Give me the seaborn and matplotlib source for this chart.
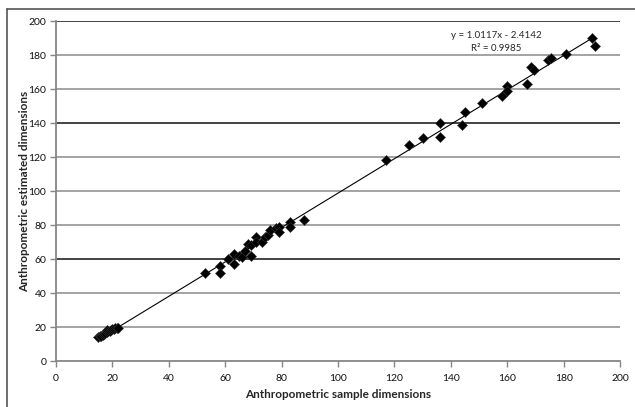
import numpy as np
import pandas as pd
import seaborn as sns
import matplotlib.pyplot as plt
from matplotlib.lines import Line2D

# sample (x) vs estimated (y) dimensions
sample_dims = [15, 15.5, 16, 16.5, 17, 17.5, 18, 18, 18.5, 19, 19.5, 20, 20.5, 21, 21.5, 22,
               53, 58, 58, 61, 63, 63, 65, 66, 67, 68, 69, 69, 71, 71, 73, 74, 75, 76, 78,
               79, 79, 83, 83, 88,
               117, 125, 130, 136, 136, 144, 145, 151, 158, 160, 160, 167, 168.5, 169.5,
               174.5, 175.5, 181, 190, 191]
estimated_dims = [14, 14.5, 15, 15.5, 16, 16.5, 17, 18, 17.5, 17.5, 18.5, 19, 19, 19.5, 19.5, 19.5,
                  51.5, 56, 51.5, 60, 63, 57, 62, 61, 65, 69, 68, 62, 73, 70, 70, 73, 74, 77, 78,
                  79, 76, 82, 79, 83,
                  118, 127, 131, 140, 132, 139, 146.5, 151.5, 156, 161.5, 159, 163, 173, 171,
                  177, 178.5, 180.5, 190, 185.5]

slope = 1.0117
intercept = -2.4142
r_squared = 0.9985

ticks = [0, 20, 40, 60, 80, 100, 120, 140, 160, 180, 200]
dark_grid = [60, 140, 200]

df = pd.DataFrame({'sample': sample_dims, 'estimated': estimated_dims})
fit_x = np.array([min(sample_dims), max(sample_dims)])
fit = pd.DataFrame({'sample': fit_x, 'estimated': slope * fit_x + intercept})

sns.set_style('white')
plt.rcParams['font.family'] = ['Lato', 'DejaVu Sans']

fig = plt.figure(figsize=(6.35, 4.07), dpi=100, facecolor='white')
ax = fig.add_axes([0.0882, 0.113, 0.8882, 0.8354])

for t in ticks[1:]:
    col = '#111111' if t in dark_grid else '#8a8a8a'
    ax.axhline(t, color=col, lw=1.1, zorder=0)

sns.lineplot(data=fit, x='sample', y='estimated', color='black', lw=0.8, ax=ax, zorder=2)
sns.scatterplot(data=df, x='sample', y='estimated', marker='D', s=26, color='black',
                edgecolor='#333333', linewidth=0.4, ax=ax, zorder=3)

ax.set_xlim(0, 200)
ax.set_ylim(0, 200)
ax.set_xticks(ticks)
ax.set_yticks(ticks)
ax.tick_params(axis='both', labelsize=7.5, length=4, width=1, color='#868686',
               direction='out', pad=3, labelcolor='#111111')
ax.tick_params(axis='x', bottom=True, pad=5)
ax.tick_params(axis='y', left=True)
for side in ['top', 'right']:
    ax.spines[side].set_visible(False)
for side in ['left', 'bottom']:
    ax.spines[side].set_color('#868686')
    ax.spines[side].set_linewidth(1.3)

ax.set_xlabel('Anthropometric sample dimensions', fontsize=8.5, fontweight='bold', labelpad=5)
ax.set_ylabel('Anthropometric estimated dimensions', fontsize=8.5, fontweight='bold')
ax.yaxis.set_label_coords(-0.046, 0.5)

ax.text(0.781, 0.958, 'y = %.4fx - %.4f' % (slope, -intercept), transform=ax.transAxes,
        ha='center', va='center', fontsize=7)
ax.text(0.781, 0.918, 'R² = %.4f' % r_squared, transform=ax.transAxes,
        ha='center', va='center', fontsize=7)

# outer chart frame
fig.add_artist(Line2D([0.011, 0.011], [0, 0.978], color='#555555', lw=1.2, transform=fig.transFigure))
fig.add_artist(Line2D([0.011, 1], [0.978, 0.978], color='#555555', lw=1.2, transform=fig.transFigure))

fig.savefig('out.png', dpi=100, facecolor='white')
